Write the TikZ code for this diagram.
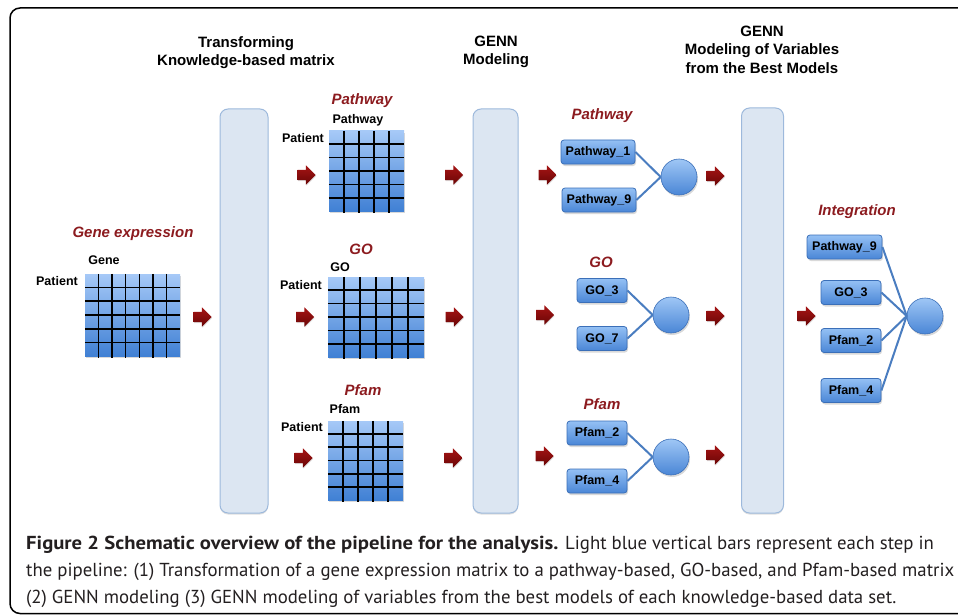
\documentclass[tikz,border=0pt]{standalone}
\usepackage{fontspec}
\setmainfont{Liberation Sans}
\newfontfamily\capfont[BoldFeatures={FakeStretch=1.1}]{PT Sans}
\usepackage{xcolor}
\usetikzlibrary{shapes.arrows,shadows,calc}
\definecolor{stepfill}{HTML}{DCE6F2}
\definecolor{stepline}{HTML}{9DB9DC}
\definecolor{cellhi}{HTML}{A6C9F7}
\definecolor{celllo}{HTML}{4080D4}
\definecolor{boxhi}{HTML}{94C0F4}
\definecolor{boxlo}{HTML}{4A86D6}
\definecolor{boxline}{HTML}{3B6FB8}
\definecolor{setred}{HTML}{8C1B1F}
\definecolor{arrowhi}{HTML}{A51515}
\definecolor{arrowlo}{HTML}{6A0505}
\definecolor{linkblue}{HTML}{4A7DC0}
\definecolor{captext}{HTML}{231F20}
\tikzstyle{stepbar}=[draw=stepline, line width=1pt, fill=stepfill, rounded corners=8pt, drop shadow={shadow xshift=0pt, shadow yshift=-1.5pt, opacity=.25}]
\tikzstyle{stephead}=[font=\fontsize{15}{18.5}\selectfont\bfseries, align=center]
\tikzstyle{setname}=[font=\fontsize{15}{18}\selectfont\bfseries\itshape, text=setred]
\tikzstyle{axislabel}=[font=\fontsize{12.5}{15}\selectfont\bfseries, inner sep=0pt]
\tikzstyle{cellgrid}=[top color=cellhi, bottom color=celllo, inner sep=0pt, drop shadow={shadow xshift=1pt, shadow yshift=-2pt, opacity=.3}]
\tikzstyle{gridline}=[black, line width=1.6pt]
\tikzstyle{varbox}=[draw=boxline, line width=.8pt, rounded corners=3pt, top color=boxhi, bottom color=boxlo, minimum height=24pt, inner sep=0pt, font=\fontsize{12.5}{15}\selectfont\bfseries, drop shadow={shadow xshift=1pt, shadow yshift=-2pt, opacity=.3}]
\tikzstyle{neuron}=[circle, draw=boxline, line width=.6pt, top color=boxhi!90!white, bottom color=boxlo, minimum size=36pt, inner sep=0pt, drop shadow={shadow xshift=1pt, shadow yshift=-2pt, opacity=.3}]
\tikzstyle{link}=[draw=linkblue, line width=2pt]
\tikzstyle{redarrow}=[single arrow, top color=arrowhi, bottom color=arrowlo, minimum height=18pt, single arrow head extend=4.5pt, single arrow head indent=0pt, inner xsep=0pt, inner ysep=5pt, text width=0pt, drop shadow={shadow xshift=.5pt, shadow yshift=-1pt, opacity=.25}]
\tikzstyle{capline}=[anchor=base west, inner sep=0pt, text=captext, font=\capfont\fontsize{18.8}{27}\selectfont]
\newcommand{\cellLines}[3]{
	\pgfmathtruncatemacro{\lastcol}{#2-1}
	\pgfmathtruncatemacro{\lastrow}{#3-1}
	\foreach \i in {1,...,\lastcol}
		\draw[gridline] ($(#1.north west)!\i/#2!(#1.north east)$) -- ($(#1.south west)!\i/#2!(#1.south east)+(0,1.5)$);
	\foreach \j in {1,...,\lastrow}
		\draw[gridline] ($(#1.north west)!\j/#3!(#1.south west)$) -- ($(#1.north east)!\j/#3!(#1.south east)$);
}

\begin{document}
\begin{tikzpicture}[x=1pt, y=-1pt]
	\useasboundingbox (0,0) rectangle (958,615);
	\draw[rounded corners=10pt, line width=1.5pt] (10,8) rectangle (990,613.5);
	\node[stepbar, minimum width=48, minimum height=404] (bar1) at (244,311) {};
	\node[stepbar, minimum width=45, minimum height=404] (bar2) at (495.5,311) {};
	\node[stepbar, minimum width=42, minimum height=405] (bar3) at (762.5,310.5) {};
	\node[stephead] (head1) at (246,52.5) {Transforming\\Knowledge-based matrix};
	\node[stephead] (head2) at (496,52) {GENN\\Modeling};
	\node[stephead] (head3) at (762,49.5) {GENN\\Modeling of Variables\\from the Best Models};

	\node[setname] (genename) at (133,234) {Gene expression};
	\node[axislabel] (genecol) at (104,260) {Gene};
	\node[axislabel, anchor=east] (generow) at (78,281) {Patient};
	\node[cellgrid, minimum width=95, minimum height=82] (gene) at (132.5,315) {};
	\cellLines{gene}{7}{6}
	\node[redarrow] (genearrow) at (200,317) {};

	\node[setname] (pwname) at (362,101) {Pathway};
	\node[axislabel] (pwcol) at (358,120) {Pathway};
	\node[axislabel, anchor=east] (pwrow) at (324,138) {Patient};
	\node[cellgrid, minimum width=75, minimum height=80] (pw) at (366.5,171) {};
	\cellLines{pw}{5}{6}
	\node[redarrow] (pwin) at (304,175) {};
	\node[redarrow] (pwout) at (451.5,175) {};

	\node[setname] (goname) at (361,249) {GO};
	\node[axislabel] (gocol) at (340,267) {GO};
	\node[axislabel, anchor=east] (gorow) at (322,285) {Patient};
	\node[cellgrid, minimum width=96, minimum height=80] (go) at (376,317) {};
	\cellLines{go}{6}{6}
	\node[redarrow] (goin) at (302.5,317) {};
	\node[redarrow] (goout) at (452,317) {};

	\node[setname] (pfname) at (363,390) {Pfam};
	\node[axislabel] (pfcol) at (345,409) {Pfam};
	\node[axislabel, anchor=east] (pfrow) at (323,427) {Patient};
	\node[cellgrid, minimum width=75, minimum height=79] (pf) at (365.5,460.5) {};
	\cellLines{pf}{5}{6}
	\node[redarrow] (pfin) at (301,458) {};
	\node[redarrow] (pfout) at (451,458) {};

	\node[setname] (pwbest) at (602,116) {Pathway};
	\node[varbox, minimum width=74] (pw1) at (598,152) {Pathway\_1};
	\node[varbox, minimum width=74] (pw9) at (599,200) {Pathway\_9};
	\node[neuron] (pwunit) at (679,177) {};
	\draw[link] (pw1.east) -- (pwunit.west);
	\draw[link] (pw9.east) -- (pwunit.west);
	\node[redarrow] (pwin2) at (545,175) {};
	\node[redarrow] (pwout2) at (713,176) {};

	\node[setname] (gobest) at (601,262) {GO};
	\node[varbox, minimum width=50] (go3) at (602,290.5) {GO\_3};
	\node[varbox, minimum width=50] (go7) at (602,338.5) {GO\_7};
	\node[neuron] (gounit) at (671,315) {};
	\draw[link] (go3.east) -- (gounit.west);
	\draw[link] (go7.east) -- (gounit.west);
	\node[redarrow] (goin2) at (542.5,315) {};
	\node[redarrow] (goout2) at (713,316) {};

	\node[setname] (pfbest) at (602,404) {Pfam};
	\node[varbox, minimum width=60] (pf2) at (597,433) {Pfam\_2};
	\node[varbox, minimum width=60] (pf4) at (597,481) {Pfam\_4};
	\node[neuron] (pfunit) at (671,457) {};
	\draw[link] (pf2.east) -- (pfunit.west);
	\draw[link] (pf4.east) -- (pfunit.west);
	\node[redarrow] (pfin2) at (542,456) {};
	\node[redarrow] (pfout2) at (713,455) {};

	\node[setname] (intname) at (857,212) {Integration};
	\node[varbox, minimum width=75] (ipw9) at (844.5,247) {Pathway\_9};
	\node[varbox, minimum width=60] (igo3) at (851,292.5) {GO\_3};
	\node[varbox, minimum width=60] (ipf2) at (851,340.5) {Pfam\_2};
	\node[varbox, minimum width=60] (ipf4) at (851,390.5) {Pfam\_4};
	\node[neuron] (intunit) at (925,316) {};
	\foreach \v in {ipw9,igo3,ipf2,ipf4}
		\draw[link] (\v.east) -- (intunit.west);
	\node[redarrow] (intin) at (804,316) {};

	\node[capline] (cap1) at (26,549) {\textbf{Figure 2 Schematic overview of the pipeline for the analysis.} Light blue vertical bars represent each step in};
	\node[capline] (cap2) at (26,576) {the pipeline: (1) Transformation of a gene expression matrix to a pathway-based, GO-based, and Pfam-based matrix};
	\node[capline] (cap3) at (26,603) {(2) GENN modeling (3) GENN modeling of variables from the best models of each knowledge-based data set.};
\end{tikzpicture}
\end{document}
